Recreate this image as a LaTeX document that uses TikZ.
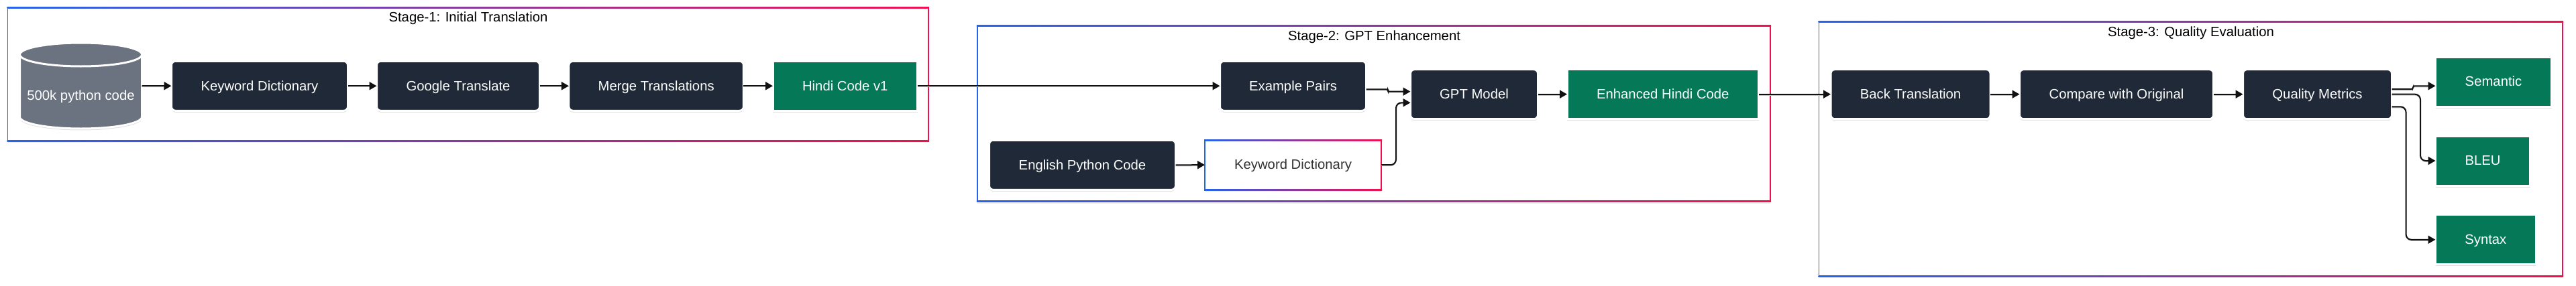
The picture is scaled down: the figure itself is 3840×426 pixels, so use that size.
\documentclass[tikz,border=0pt]{standalone}
\usepackage{fontspec}
\setmainfont{Liberation Sans}
\usetikzlibrary{arrows.meta,shadows,calc}
\definecolor{darkbox}{HTML}{1F2937}
\definecolor{greenbox}{HTML}{047857}
\definecolor{dbgray}{HTML}{6B7280}
\definecolor{fblue}{HTML}{2563EB}
\definecolor{fred}{HTML}{F01050}
\definecolor{edgecol}{HTML}{111111}
\tikzset{
  labelfont/.style={font=\fontsize{20.3pt}{24pt}\selectfont,text height=15.8pt,text depth=2.4pt},
  softshadow/.style={drop shadow={shadow xshift=0pt,shadow yshift=-2.5pt,opacity=.12,fill=black}},
  basebox/.style={draw=white,line width=3pt,inner sep=0pt,outer sep=0pt,text=white,labelfont,softshadow},
  procbox/.style={basebox,fill=darkbox,rounded corners=6pt},
  outbox/.style={basebox,fill=greenbox},
  whitebox/.style={inner sep=0pt,outer sep=0pt,text=black!80,labelfont},
  titletext/.style={inner sep=0pt,text=black,labelfont},
  framebox/.style={inner sep=0pt,outer sep=0pt},
  flow/.style={draw=edgecol,line width=2pt,-{Triangle[length=11pt,width=12pt]},
    preaction={draw=black!25,line width=1.4pt,transform canvas={yshift=-1.3pt},-,shorten >=11pt}},
  bendflow/.style={flow,rounded corners=8pt},
  jogflow/.style={flow,rounded corners=2.4pt}
}
% gradient outline around a named node
\newcommand{\gradborder}[2]{%
  \fill[black,opacity=.08] ($(#1.south west)+(0,-3pt)$) rectangle ($(#1.south east)+(0,-1pt)$);
  \shade[left color=fblue,right color=fred]
    ($(#1.north west)+(-#2/2,#2/2)$) rectangle ($(#1.north east)+(#2/2,-#2/2)$);
  \shade[left color=fblue,right color=fred]
    ($(#1.south west)+(-#2/2,#2/2)$) rectangle ($(#1.south east)+(#2/2,-#2/2)$);
  \fill[fblue] ($(#1.north west)+(-#2/2,#2/2)$) rectangle ($(#1.south west)+(#2/2,-#2/2)$);
  \fill[fred] ($(#1.north east)+(-#2/2,#2/2)$) rectangle ($(#1.south east)+(#2/2,-#2/2)$);
}
\begin{document}
\begin{tikzpicture}[x=1pt,y=-1pt]
\useasboundingbox (0,0) rectangle (3840,426);
\fill[white] (0,0) rectangle (3840,426);

% stage frames
\node[framebox,minimum width=1372.5pt,minimum height=198.5pt] (s1) at (697.8,110.9) {};
\node[framebox,minimum width=1182pt,minimum height=262pt] (s2) at (2048,169.7) {};
\node[framebox,minimum width=1108.5pt,minimum height=379.6pt] (s3) at (3265.8,222.5) {};
\gradborder{s1}{1.8pt}
\gradborder{s2}{2.4pt}
\gradborder{s3}{1.8pt}
\node[titletext] (t1) at (698,26) {Stage-1: Initial Translation};
\node[titletext] (t2) at (2048.5,54) {Stage-2: GPT Enhancement};
\node[titletext] (t3) at (3266,48) {Stage-3: Quality Evaluation};

% database
\fill[black,opacity=.12] (29.5,83.5) -- (29.5,177) arc[start angle=180,end angle=360,x radius=91pt,y radius=17.5pt] -- (211.5,83.5) -- cycle;
\path[fill=dbgray,draw=white,line width=3pt]
  (29.5,81.5) arc[start angle=180,end angle=0,x radius=91pt,y radius=17.5pt]
  -- (211.5,174.5) arc[start angle=360,end angle=180,x radius=91pt,y radius=17.5pt] -- cycle;
\path[draw=white,line width=3pt]
  (29.5,81.5) arc[start angle=180,end angle=360,x radius=91pt,y radius=17.5pt];
\node[inner sep=0pt,outer sep=0pt,minimum width=182pt,minimum height=128pt] (db) at (120.5,128) {};
\node[inner sep=0pt,text=white,labelfont] (dblabel) at (120.5,143) {500k python code};

% stage 1
\node[procbox,minimum width=263pt,minimum height=74pt] (kd1) at (387,128.3) {Keyword Dictionary};
\node[procbox,minimum width=243pt,minimum height=74pt] (gt) at (683,128.3) {Google Translate};
\node[procbox,minimum width=260.5pt,minimum height=74pt] (mt) at (978.2,128.3) {Merge Translations};
\node[outbox,minimum width=215.5pt,minimum height=74pt] (hv) at (1259.8,128.3) {Hindi Code v1};

% stage 2
\node[procbox,minimum width=218pt,minimum height=74pt] (ep) at (1927.5,128.3) {Example Pairs};
\node[procbox,minimum width=278pt,minimum height=74pt] (en) at (1613.5,246.3) {English Python Code};
\node[whitebox,minimum width=263pt,minimum height=74.3pt] (kd2) at (1927.5,246.2) {};
\gradborder{kd2}{2pt}
\node[whitebox] (kd2t) at (1927.5,246.2) {Keyword Dictionary};
\node[procbox,minimum width=190pt,minimum height=74pt] (gpt) at (2197.5,140.7) {GPT Model};
\node[outbox,minimum width=285.5pt,minimum height=74pt] (eh) at (2478.8,140.7) {Enhanced Hindi Code};

% stage 3
\node[procbox,minimum width=238pt,minimum height=74pt] (bt) at (2848,140.7) {Back Translation};
\node[procbox,minimum width=289pt,minimum height=74pt] (cp) at (3155,140.7) {Compare with Original};
\node[procbox,minimum width=222pt,minimum height=74pt] (qm) at (3454.5,140.7) {Quality Metrics};
\node[outbox,minimum width=173pt,minimum height=74pt] (sem) at (3717,122.2) {Semantic};
\node[outbox,minimum width=141pt,minimum height=74pt] (bl) at (3701,240) {BLEU};
\node[outbox,minimum width=149.7pt,minimum height=74pt] (sy) at (3705.3,357.8) {Syntax};

% connectors
\draw[flow] (db.east) -- (kd1.west);
\draw[flow] (kd1.east) -- (gt.west);
\draw[flow] (gt.east) -- (mt.west);
\draw[flow] (mt.east) -- (hv.west);
\draw[flow] (hv.east) -- (ep.west);
\draw[flow] (en.east) -- (kd2.west);
\draw[jogflow] ([yshift=-5pt]ep.east) -- (2069,133.3) -- (2069,136.7) -- ([yshift=4pt]gpt.west);
\draw[bendflow] (kd2.east) -- (2081,246.2) -- (2081,153.3) -- ([yshift=-12.6pt]gpt.west);
\draw[flow] (gpt.east) -- (eh.west);
\draw[flow] (eh.east) -- (bt.west);
\draw[flow] (bt.east) -- (cp.west);
\draw[flow] (cp.east) -- (qm.west);
\draw[jogflow] ([yshift=7.7pt]qm.east) -- (3597,133) -- (3597,128.3) -- ([yshift=-6.1pt]sem.west);
\draw[bendflow] (qm.east) -- (3608,140.7) -- (3608,240) -- (bl.west);
\draw[bendflow] ([yshift=-18.6pt]qm.east) -- (3586.5,159.3) -- (3586.5,357.8) -- (sy.west);
\end{tikzpicture}
\end{document}
